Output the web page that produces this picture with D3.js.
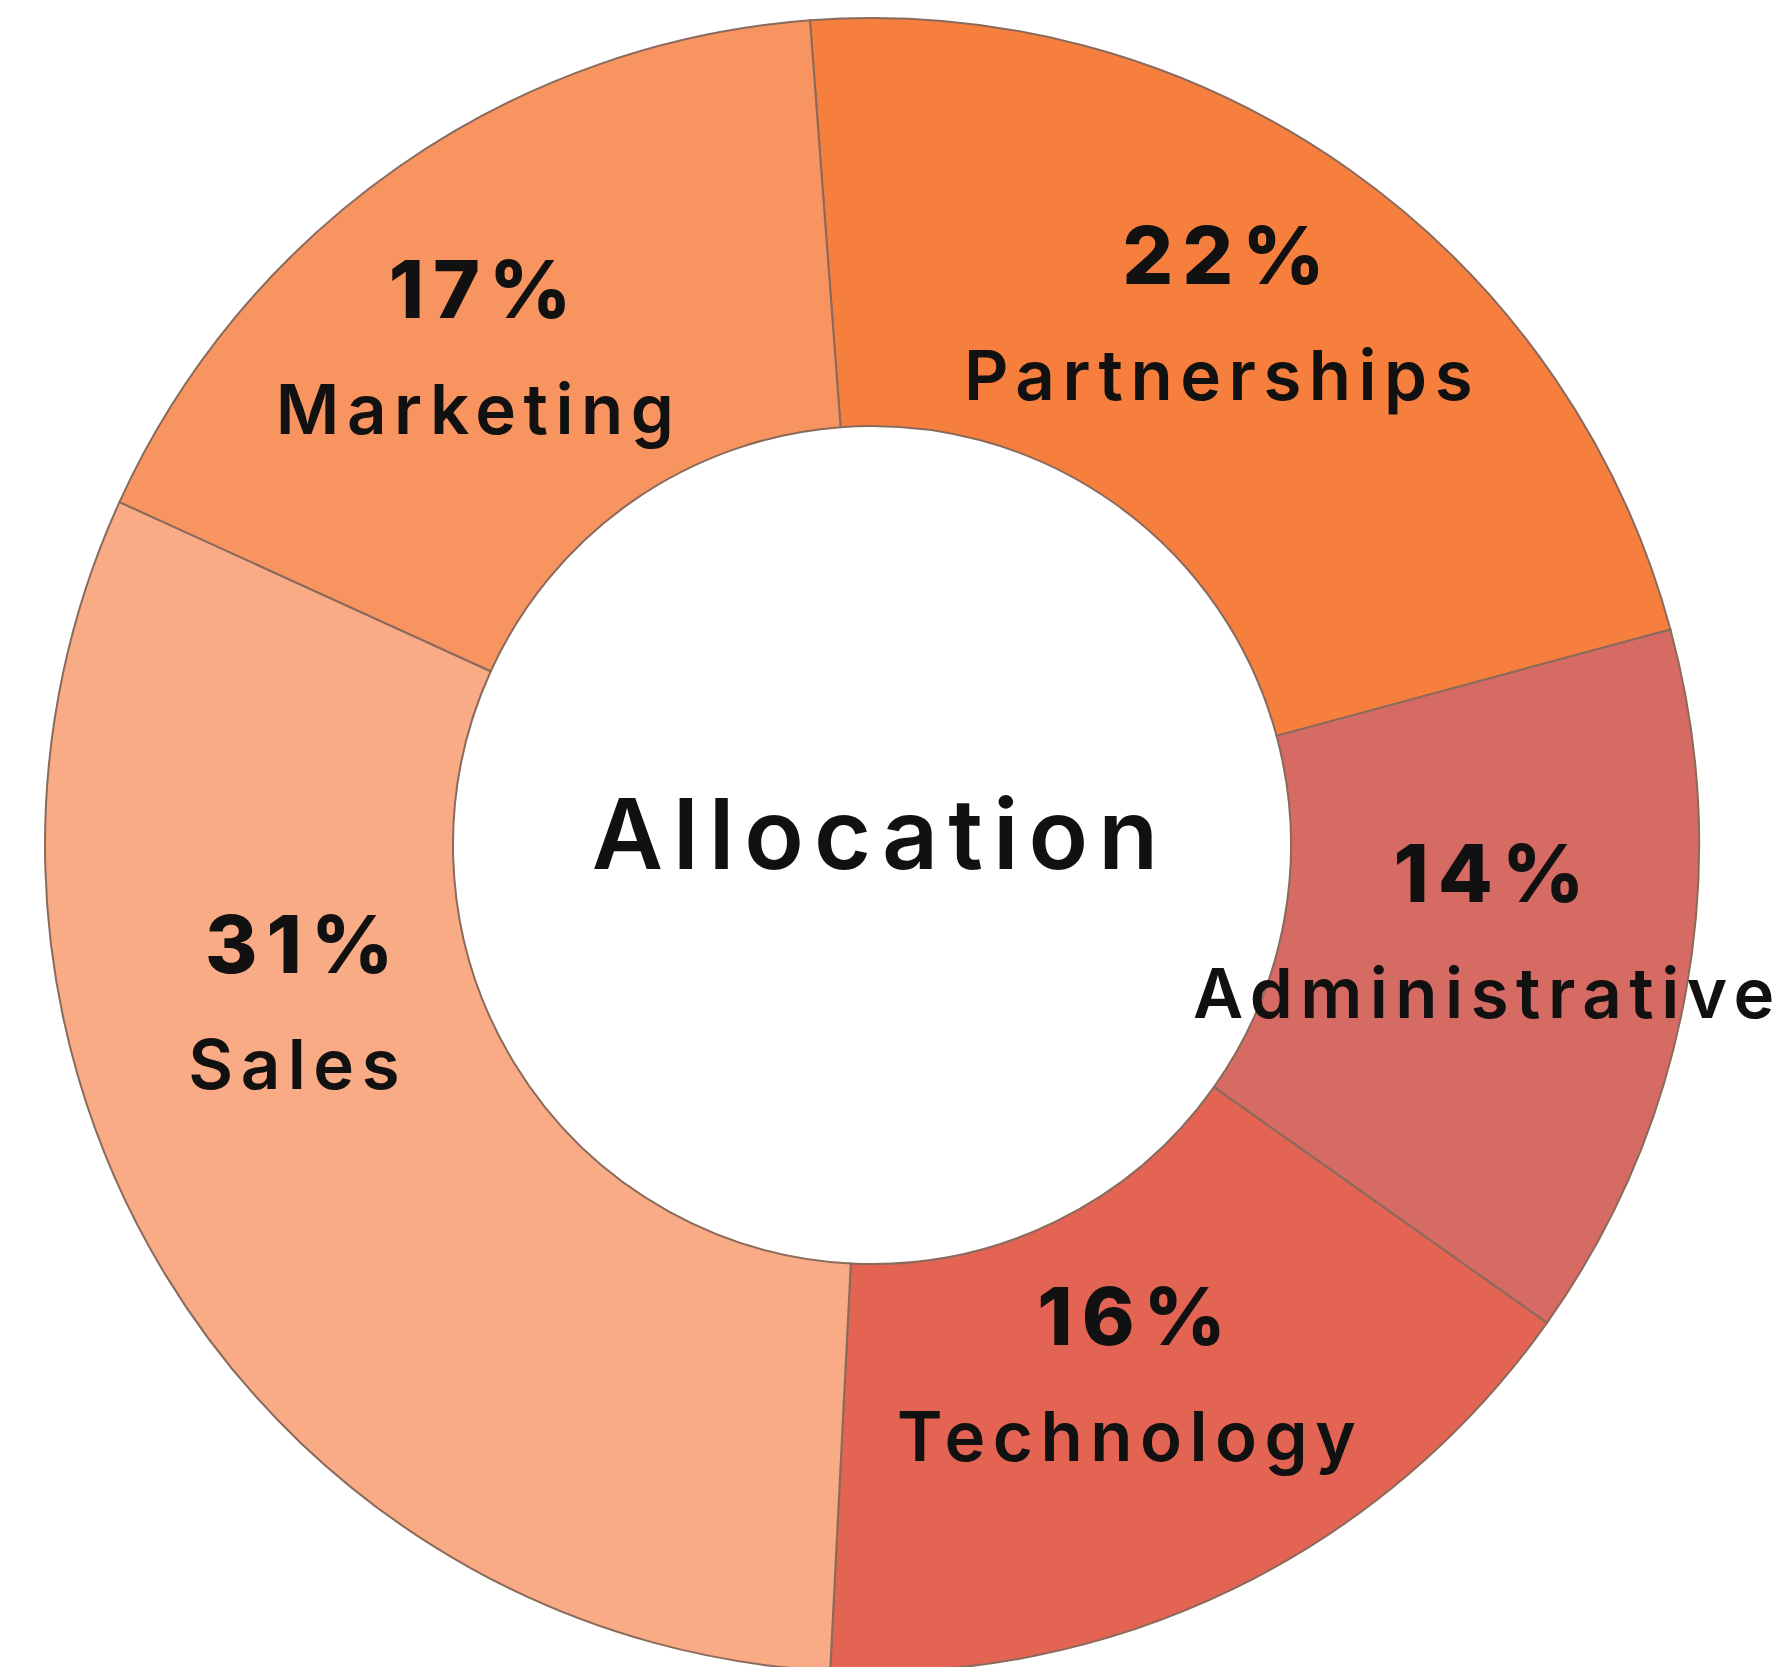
<!DOCTYPE html>
<html>
<head>
<meta charset="utf-8">
<script src="https://cdn.jsdelivr.net/npm/d3@7"></script>
<style>
  html, body { margin: 0; padding: 0; background: #fff; }
  svg { display: block; }
</style>
</head>
<body>
<svg id="chart"></svg>
<script>
// data, clockwise from the top
const categories = ["Partnerships", "Administrative", "Technology", "Sales", "Marketing"];
const shares = [22, 14, 16, 31, 17];
const sliceColors = ["#F77F3E", "#D66B64", "#E46454", "#F9AB85", "#F8945F"];
const centerTitle = "Allocation";

// layout
const W = 1789, H = 1667;
const cx = 872, cy = 845;
const outerR = 827, innerR = 419;
const startAngle = -4.3 * Math.PI / 180;

// small nudges so labels sit where they do in the original
const labelNudge = {
  "Partnerships":   [-10, 5],
  "Administrative": [2, 6],
  "Technology":     [-14, -2],
  "Sales":          [-42, -138],
  "Marketing":      [-37, 42]
};

const svg = d3.select("#chart").attr("width", W).attr("height", H);
const g = svg.append("g").attr("transform", "translate(" + cx + "," + cy + ")");

const color = d3.scaleOrdinal().domain(categories).range(sliceColors);

const pie = d3.pie()
  .sort(null)
  .value(d => d.value)
  .startAngle(startAngle)
  .endAngle(startAngle + 2 * Math.PI);

const arc = d3.arc().innerRadius(innerR).outerRadius(outerR);

const rows = categories.map((c, i) => ({ name: c, value: shares[i] }));
const arcs = pie(rows);

//----------------slices
g.selectAll("path.slice")
  .data(arcs)
  .join("path")
  .attr("class", "slice")
  .attr("d", arc)
  .attr("fill", d => color(d.data.name))
  .attr("stroke", "#8a6a5c")
  .attr("stroke-width", 2);

//----------------labels
const labels = g.selectAll("g.lbl")
  .data(arcs)
  .join("g")
  .attr("class", "lbl")
  .attr("transform", d => {
    let c = arc.centroid(d);
    let n = labelNudge[d.data.name] || [0, 0];
    return "translate(" + (c[0] + n[0]) + "," + (c[1] + n[1]) + ")";
  });

labels.append("text")
  .attr("y", -58)
  .attr("x", 6)
  .attr("text-anchor", "middle")
  .style("font-family", "Inter, 'DejaVu Sans', sans-serif")
  .style("font-weight", 800)
  .style("font-size", "80px")
  .style("letter-spacing", "9px")
  .attr("fill", "#111")
  .text(d => d.data.value + "%");

labels.append("text")
  .attr("y", 58)
  .attr("text-anchor", "middle")
  .style("font-family", "Inter, 'DejaVu Sans', sans-serif")
  .style("font-weight", 600)
  .style("font-size", "69px")
  .style("letter-spacing", "7.5px")
  .attr("fill", "#111")
  .text(d => d.data.name);

//----------------center title
g.append("text")
  .attr("y", 24)
  .attr("x", 8)
  .attr("text-anchor", "middle")
  .style("font-family", "Inter, 'DejaVu Sans', sans-serif")
  .style("font-weight", 600)
  .style("font-size", "98px")
  .style("letter-spacing", "10px")
  .attr("fill", "#111")
  .text(centerTitle);
</script>
</body>
</html>
